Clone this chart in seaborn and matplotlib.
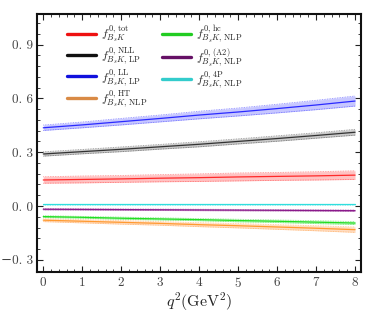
import numpy as np
import pandas as pd
import seaborn as sns
import matplotlib.pyplot as plt
from matplotlib.ticker import MultipleLocator, FuncFormatter

# valeurs (q^2 = 0..8 GeV^2)
q2 = [0, 1, 2, 3, 4, 5, 6, 7, 8]

f_tot = [0.145, 0.148, 0.151, 0.155, 0.158, 0.162, 0.165, 0.168, 0.172]
f_nll = [0.290, 0.303, 0.316, 0.330, 0.344, 0.360, 0.376, 0.393, 0.411]
f_ll = [0.436, 0.452, 0.470, 0.488, 0.507, 0.524, 0.543, 0.563, 0.585]
f_ht = [-0.079, -0.085, -0.091, -0.097, -0.104, -0.110, -0.117, -0.124, -0.132]
f_hc = [-0.059, -0.063, -0.068, -0.072, -0.076, -0.081, -0.085, -0.090, -0.095]
f_a2 = [-0.018, -0.019, -0.020, -0.021, -0.022, -0.023, -0.024, -0.025, -0.026]
f_4p = [0.009, 0.009, 0.009, 0.009, 0.009, 0.009, 0.009, 0.009, 0.009]

# demi-largeurs des bandes d'incertitude
err_tot = [0.018, 0.019, 0.019, 0.020, 0.021, 0.022, 0.022, 0.023, 0.024]
err_nll = [0.012, 0.012, 0.013, 0.013, 0.014, 0.014, 0.015, 0.015, 0.016]
err_ll = [0.015, 0.016, 0.018, 0.019, 0.021, 0.022, 0.024, 0.026, 0.028]
err_ht = [0.008, 0.009, 0.010, 0.010, 0.011, 0.012, 0.013, 0.014, 0.015]
err_hc = [0.005, 0.005, 0.006, 0.006, 0.006, 0.007, 0.007, 0.008, 0.008]
err_a2 = [0.004, 0.004, 0.004, 0.004, 0.004, 0.004, 0.004, 0.004, 0.004]
err_4p = [0.003, 0.003, 0.003, 0.003, 0.003, 0.003, 0.003, 0.003, 0.003]

labels = [
    r"$f^{0,\,\mathrm{tot}}_{B_sK}$",
    r"$f^{0,\,\mathrm{NLL}}_{B_sK,\,\mathrm{LP}}$",
    r"$f^{0,\,\mathrm{LL}}_{B_sK,\,\mathrm{LP}}$",
    r"$f^{0,\,\mathrm{HT}}_{B_sK,\,\mathrm{NLP}}$",
    r"$f^{0,\,\mathrm{hc}}_{B_sK,\,\mathrm{NLP}}$",
    r"$f^{0,\,\mathrm{(A2)}}_{B_sK,\,\mathrm{NLP}}$",
    r"$f^{0,\,\mathrm{4P}}_{B_sK,\,\mathrm{NLP}}$",
]
series = [f_tot, f_nll, f_ll, f_ht, f_hc, f_a2, f_4p]
errors = [err_tot, err_nll, err_ll, err_ht, err_hc, err_a2, err_4p]
line_colors = ["#ff2a2a", "#333333", "#2a2aff", "#ff9a30", "#22dd22", "#8a1a8a", "#30dede"]
legend_colors = ["#ee1111", "#111111", "#1111dd", "#d98a45", "#22cc22", "#661166", "#33cccc"]
band_colors = ["#ff9090", "#a0a0a0", "#9a9aff", "#ffc090", "#90ee90", "#c080c0", "#a0f0f0"]

sns.set_style("ticks")
plt.rcParams["mathtext.fontset"] = "cm"
plt.rcParams["font.family"] = ["cmr10", "DejaVu Serif"]
plt.rcParams["axes.formatter.use_mathtext"] = True

fig = plt.figure(figsize=(3.74, 3.12), dpi=100)
ax = fig.add_axes([0.099, 0.127, 0.866, 0.828])

for vals, err, lc, bc, lab in zip(series, errors, line_colors, band_colors, labels):
    v = np.array(vals)
    e = np.array(err)
    ax.fill_between(q2, v - e, v + e, color=bc, alpha=0.55, lw=0)
    ax.plot(q2, v - e, color=lc, lw=0.6, ls=(0, (1, 1)), alpha=0.6)
    ax.plot(q2, v + e, color=lc, lw=0.6, ls=(0, (1, 1)), alpha=0.6)
    sns.lineplot(x=q2, y=vals, color=lc, lw=0.9, ax=ax, label=lab)

leg = ax.legend(ncol=2, loc="upper left", bbox_to_anchor=(0.06, 1.005), frameon=False,
                fontsize=8.6, handlelength=2.4, columnspacing=1.3, labelspacing=0.05,
                handletextpad=0.4)
for h, c in zip(leg.get_lines(), legend_colors):
    h.set_linewidth(2.4)
    h.set_color(c)
    h.set_alpha(1)

ax.set_xlim(-0.16, 8.15)
ax.set_ylim(-0.37, 1.07)
ax.xaxis.set_major_locator(MultipleLocator(1))
ax.xaxis.set_minor_locator(MultipleLocator(0.2))
ax.yaxis.set_major_locator(MultipleLocator(0.3))
ax.yaxis.set_minor_locator(MultipleLocator(0.06))
ax.yaxis.set_major_formatter(FuncFormatter(lambda v, p: ("%.1f" % v).replace(".", ". ").replace("-", "\u2212")))
ax.tick_params(which="both", direction="in", top=True, right=True, labelsize=9.5, colors="#222222")
ax.tick_params(which="major", length=4, width=0.8)
ax.tick_params(which="minor", length=2, width=0.6)
ax.tick_params(axis="both", labelcolor="#444444")
ax.tick_params(axis="y", pad=3)
ax.tick_params(axis="x", pad=2.5)
for s in ax.spines.values():
    s.set_linewidth(1.5)
    s.set_color("#111111")

ax.set_xlabel(r"$q^2(\mathrm{GeV}^2)$", fontsize=11.5, labelpad=0.5)
ax.set_ylabel("")

fig.savefig("out.png", dpi=100)
